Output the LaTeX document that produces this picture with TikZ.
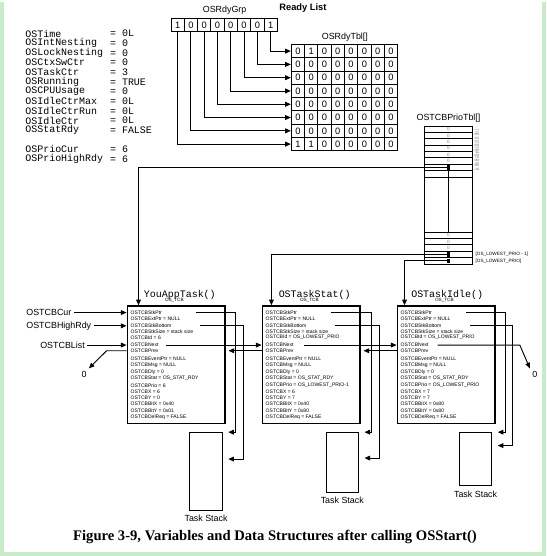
\documentclass[tikz,border=0pt]{standalone}
\usepackage{fontspec}
\setmainfont{Liberation Sans}
\newfontfamily\varfont{Liberation Mono}
\newfontfamily\capfont{Liberation Serif}
\usetikzlibrary{arrows.meta,positioning,calc}
\definecolor{frame}{RGB}{200,235,200}
\tikzset{
  lbl/.style={font=\fontsize{6.7}{7}\selectfont, inner sep=1.5pt},
  var/.style={font=\varfont\fontsize{7.5}{8}\selectfont, inner sep=0pt, anchor=west},
  cell/.style={draw, minimum size=10pt, inner sep=0pt, font=\fontsize{7}{7}\selectfont},
  fld/.style={font=\fontsize{3.8}{4}\selectfont, inner sep=0pt, anchor=west},
  tcb/.style={draw, line width=1.4pt, minimum width=73.5pt, minimum height=88.3pt, anchor=north west, inner sep=0pt},
  stk/.style={draw, minimum width=24.5pt, anchor=north west, inner sep=0pt},
  prow/.style={draw, minimum width=35.5pt, minimum height=4.8pt, inner sep=0pt, anchor=north west},
  tiny/.style={font=\fontsize{3.5}{4}\selectfont, inner sep=0pt},
  dot/.style={fill, minimum width=2.2pt, minimum height=3.5pt, inner sep=0pt},
}
\begin{document}
\begin{tikzpicture}[x=0.75pt, y=-0.75pt, line width=0.7pt,
  >={Stealth[inset=0pt,length=4.2pt,width=3.6pt]}]
\fill[white] (0,0) rectangle (548,556);
\draw[frame, line width=3pt] (2,0) -- (2,554) -- (546,554) -- (546,0);
\useasboundingbox (0,0) rectangle (548,556);

% global variables
\foreach \i/\y/\n/\v in {1/31.7/OSTime/0L, 2/41.4/OSIntNesting/0, 3/51.1/OSLockNesting/0,
  4/60.8/OSCtxSwCtr/0, 5/70.5/OSTaskCtr/3, 6/80.2/OSRunning/TRUE, 7/89.9/OSCPUUsage/0,
  8/99.6/OSIdleCtrMax/0L, 9/109.3/OSIdleCtrRun/0L, 10/119/OSIdleCtr/0L,
  11/128.7/OSStatRdy/FALSE, 12/147.7/OSPrioCur/6, 13/157.4/OSPrioHighRdy/6}
{
  \node[var] (n\i) at (25,\y) {\n};
  \node[var] (v\i) at (110,\y) {= \v};
}

% ready list
\node[font=\bfseries\fontsize{7}{8}\selectfont, inner sep=0pt] (rl) at (304,6) {Ready List};
\foreach \k/\b in {7/1,6/0,5/0,4/0,3/0,2/0,1/0,0/1}
  \node[cell] (g\k) at ({178.3+13.33*(7-\k)},23) {\b};
\node[lbl, above=0.5pt of g4.north east] (grp) {OSRdyGrp};

\foreach \r/\row in {0/{0,1,0,0,0,0,0,0}, 1/{0,0,0,0,0,0,0,0}, 2/{0,0,0,0,0,0,0,0},
  3/{0,0,0,0,0,0,0,0}, 4/{0,0,0,0,0,0,0,0}, 5/{0,0,0,0,0,0,0,0},
  6/{0,0,0,0,0,0,0,0}, 7/{1,1,0,0,0,0,0,0}}
  \foreach \v [count=\c from 0] in \row
    \node[cell] (t\r-\c) at ({299+13.33*\c},{49.3+13.33*\r}) {\v};
\node[lbl, above=0.5pt of t0-3.north east] (tbl) {OSRdyTbl[]};

\foreach \k in {0,...,7}
  \draw[->] (g\k.south) |- (t\k-0.west);

% OSTCBPrioTbl[]
\foreach \r in {0,...,7}
  \node[prow] (p\r) at (426,{124+6.4*\r}) {};
\node[draw, minimum width=35.5pt, minimum height=41.5pt, inner sep=0pt, anchor=north west] (pgap) at (426,175.2) {};
\foreach \r in {1,...,5}
  \node[prow] (q\r) at (426,{230.5+6.4*(\r-1)}) {};
\node[lbl, above=0.5pt of p0] (ptbl) {OSTCBPrioTbl[]};
\foreach \r in {0,...,5}
  \node[tiny, gray] (pz\r) at (p\r) {0};
\foreach \r in {1,2,3}
  \node[tiny, gray] (qz\r) at (q\r) {0};
\node[dot] (d6) at (p6) {};
\node[dot] (d4) at (q4) {};
\node[dot] (d5) at (q5) {};
\draw (d6) -- (q1.north);
\node[tiny, gray, rotate=-90] (pidx) at (478.5,149) {[0][1][2][3][4][5][6][7]};
\node[tiny, anchor=west] (lo1) at ([xshift=2pt]q4.east) {[OS\_LOWEST\_PRIO - 1]};
\node[tiny, anchor=west] (lo0) at ([xshift=2pt]q5.east) {[OS\_LOWEST\_PRIO]};

% OS_TCBs
\node[tcb] (ta) at (127,304.3) {};
\node[tcb] (tb) at (262.5,304.3) {};
\node[tcb] (tc) at (398,304.3) {};
\node[var] (na) at (144,294.3) {YouAppTask()};
\node[var] (nb) at (279.3,294.3) {OSTaskStat()};
\node[var] (nc) at (412.3,294.3) {OSTaskIdle()};
\foreach \tk in {a,b,c}
{
  \node[tiny] (os\tk) at ($(t\tk.north)+(-2,-4.5)$) {OS\_TCB};
  \foreach \k/\dy/\s in {1/7.4/OSTCBStkPtr, 2/13.4/{OSTCBExtPtr = NULL},
    3/20.7/OSTCBStkBottom, 4/26.4/{OSTCBStkSize = stack size},
    6/40/OSTCBNext, 7/45.7/OSTCBPrev, 8/54/{OSTCBEventPtr = NULL},
    9/60/{OSTCBMsg = NULL}, 10/67/{OSTCBDly = 0},
    11/73/{OSTCBStat = OS\_STAT\_RDY}, 17/112.4/{OSTCBDelReq = FALSE}}
    \node[fld] (\tk\k) at ($(t\tk.north west)+(3.7,\dy)$) {\s};
}
\foreach \k/\dy/\s in {5/32.4/{OSTCBId = 6}, 12/80.7/{OSTCBPrio = 6},
  13/86.4/{OSTCBX = 6}, 14/93/{OSTCBY = 0}, 15/99/{OSTCBBitX = 0x40},
  16/105.7/{OSTCBBitY = 0x01}}
  \node[fld] (a\k) at ($(ta.north west)+(3.7,\dy)$) {\s};
\foreach \k/\dy/\s in {5/32.4/{OSTCBId = OS\_LOWEST\_PRIO}, 12/80.7/{OSTCBPrio = OS\_LOWEST\_PRIO-1},
  13/86.4/{OSTCBX = 6}, 14/93/{OSTCBY = 7}, 15/99/{OSTCBBitX = 0x40},
  16/105.7/{OSTCBBitY = 0x80}}
  \node[fld] (b\k) at ($(tb.north west)+(3.7,\dy)$) {\s};
\foreach \k/\dy/\s in {5/32.4/{OSTCBId = OS\_LOWEST\_PRIO}, 12/80.7/{OSTCBPrio = OS\_LOWEST\_PRIO},
  13/86.4/{OSTCBX = 7}, 14/93/{OSTCBY = 7}, 15/99/{OSTCBBitX = 0x80},
  16/105.7/{OSTCBBitY = 0x80}}
  \node[fld] (c\k) at ($(tc.north west)+(3.7,\dy)$) {\s};

% priority table to TCBs
\draw[->] (d6) -| ([xshift=9pt]ta.north west);
\draw[->] (d4) -| ([xshift=7.4pt]tb.north west);
\draw[->] (d5) -| ([xshift=6pt]tc.north west);

% task stacks
\node[stk, minimum height=58.7pt] (sa) at (190,431.7) {};
\node[stk, minimum height=45pt] (sb) at (326.7,431.7) {};
\node[stk, minimum height=40pt] (sc) at (460.5,431.7) {};
\foreach \tk in {a,b,c}
  \node[lbl, inner sep=0pt, below=3pt of s\tk] (ls\tk) {Task Stack};
\foreach \tk/\dy in {a/27,b/26,c/13.5}
{
  \draw[->] (\tk1.west) ++(66,0) -| ($(s\tk.north east)+(13,0)$) -- ($(s\tk.north east)+(5.5,0)$);
  \draw[->] (\tk3.west) ++(70,0) -| ($(s\tk.north east)+(20.5,\dy)$) -- ($(s\tk.north east)+(5.5,\dy)$);
}

% TCB list
\draw[->] (a6.west) ++(36,0) -- (a6 -| tb.west);
\draw[->] (b6.west) ++(39,0) -- (b6 -| tc.west);
\draw[->] (b7 -| tb.west) -- ($(a7 -| ta.east)+(2.5,0)$);
\draw[->] (c7 -| tc.west) -- ($(b7 -| tb.east)+(2.5,0)$);
\node[lbl] (za) at (84.3,373.3) {0};
\draw[->] (a7 -| ta.west) -- ++(-20,0) -- (za.north east);
\node[lbl] (zc) at (536.7,373.3) {0};
\draw[->] (c6.west) ++(37.6,0) -- ++(82.4,0) -- (zc.north west);

% pointers
\node[lbl, anchor=west] (cur) at (24,311.7) {OSTCBCur};
\node[lbl, anchor=west] (hrdy) at (24,325) {OSTCBHighRdy};
\node[lbl, anchor=west] (lst) at (38,344.3) {OSTCBList};
\draw[->] (cur) -- (cur -| ta.west);
\draw[->] (hrdy) -- (hrdy -| ta.west);
\draw[->] (lst) -- (lst -| ta.west);

\node[font=\capfont\bfseries\fontsize{11}{12}\selectfont, inner sep=0pt] (cap) at (276,537)
  {Figure 3-9, Variables and Data Structures after calling OSStart()};
\end{tikzpicture}
\end{document}
